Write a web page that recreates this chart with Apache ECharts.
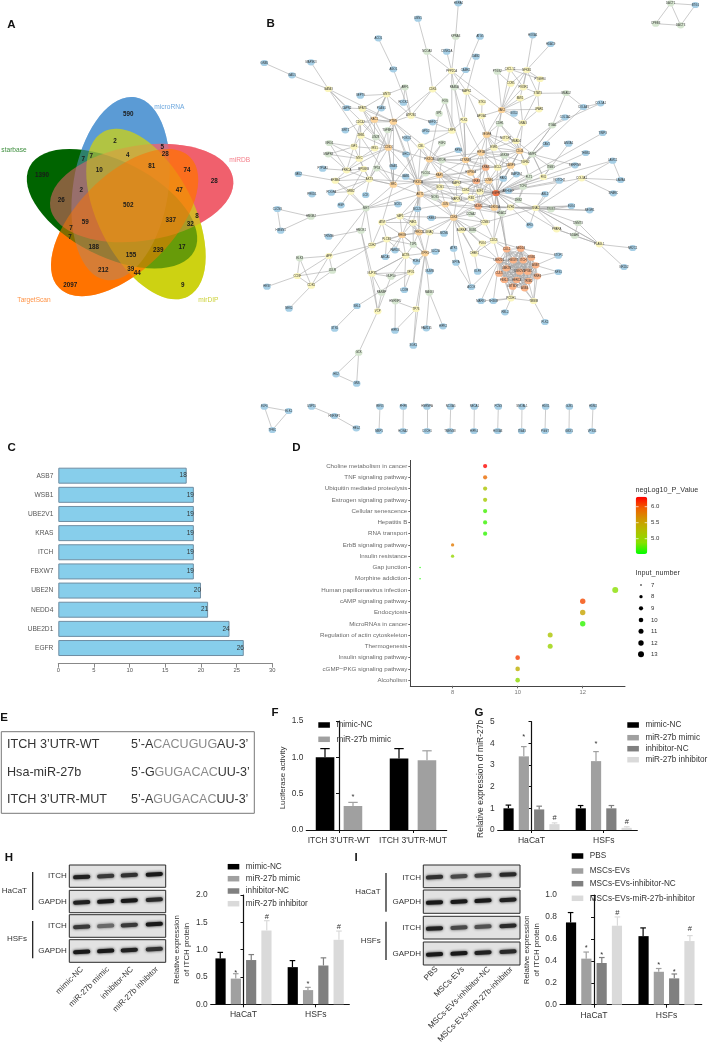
<!DOCTYPE html>
<html><head><meta charset="utf-8">
<style>html,body{margin:0;padding:0;background:#fff}#c{width:709px;height:1047px;filter:blur(0.35px)}</style>
<script src="https://cdn.jsdelivr.net/npm/echarts@6/dist/echarts.min.js"></script>
</head><body><div id="c"></div>
<script>
/* ---------- A: Venn ---------- */
const vennNames=["microRNA","miRDB","mirDIP","starbase","TargetScan"];
const vennCx=[362,425,438,336,374];
const vennCy=[566,579,642,626,668];
const vennRx=[277.5,277.5,277.5,277.5,277.5];
const vennRy=[143,143,143,143,143];
const vennAngle=[81,9,-63,-27,45];
const vennPure=["#5b9bd5","#f0606e","#cdd212","#006400","#ff7300"];
const vennGlaze=[0.5,0.55,0.5,0,0.5];
const vennCounts=[["590",385,344],["2",345,423],["7",250,477],["7",274,470],["4",383,465],["5",487,441],["28",496,463],["1390",126,525],["10",298,510],["81",455,499],["74",561,510],["28",643,543],["2",244,570],["26",184,601],["47",538,570],["502",385,615],["337",512,660],["8",591,649],["32",571,673],["59",256,667],["7",213,685],["7",210,711],["188",281,743],["239",475,751],["17",546,743],["155",393,767],["212",310,812],["39",392,808],["44",412,821],["2097",211,856],["9",548,856]];
/* ---------- B: network ---------- */
const networkNodes=[
["HSPA4",655,10,"b"],["KPNA3",647,110,"g"],["UBN1",534,56,"b"],["NCOA3",561,155,"g"],["CSNK2A",620,155,"b"],["ATG5",720,110,"b"],["DAB2",708,170,"b"],["ACO1",415,115,"b"],["AGO1",460,208,"b"],["PPP2CA",635,213,"y"],["CAMK1",677,210,"b"],["GNB5",73,189,"b"],["GAD1",156,226,"b"],["MAP3K3",213,187,"b"],["GATA3",265,267,"y"],["RAB5A",643,262,"g"],["CDK6",578,268,"y"],["MAPK1",680,275,"y"],
["PTGS2",772,215,"g"],["CXCL12",810,208,"y"],["NFKB1",860,210,"y"],["PTGER4",900,237,"y"],["CCR5",812,251,"y"],["PIK3R1",850,262,"y"],["STAT3",893,280,"y"],["BMI1",840,295,"y"],["LPAR1",897,328,"y"],["JAK2",785,330,"o"],["SOD2",822,341,"b"],["GNAI3",848,369,"y"],["SMAD2",978,279,"g"],["COL4A1",1030,321,"b"],["COL5A1",1082,310,"b"],["COL1A2",975,352,"b"],["ITGA5",937,376,"g"],["HOXA1",878,106,"b"],["HDAC9",932,132,"b"],
["STK4",726,307,"y"],["FOS",615,303,"g"],["SP1",597,341,"g"],["APOA1",725,348,"y"],["PLK1",672,360,"y"],["LRP6",636,392,"y"],["MEF2C",578,367,"b"],["GPD2",557,394,"b"],
["WNT3",440,283,"y"],["ARF1",495,262,"g"],["SEPT9",361,287,"b"],["ROCK1",490,308,"b"],["CAPN2",320,324,"b"],["NFAT5",367,326,"y"],["PLAG1",424,325,"b"],["ATP2B1",513,347,"y"],
["CDC42",361,367,"y"],["RAC1",403,359,"o"],["PTEN",460,365,"o"],["TGFBR1",443,390,"g"],["SIRT1",316,391,"b"],["ZEB1",363,407,"y"],["LIN28",407,412,"g"],["FOXO1",500,415,"b"],
["NRG1",268,429,"g"],["MAPK8",265,463,"g"],["IGF1",342,440,"y"],["IRS1",404,445,"y"],["CCND1",445,443,"o"],["MYC",358,476,"y"],
["PTP4A1",248,506,"b"],["PRKCA",320,511,"y"],["RPS6KB",371,507,"y"],["TP53",410,505,"g"],["GNAI1",460,500,"b"],["VAV2",175,522,"b"],["ERBB4",286,542,"y"],["AKT3",388,538,"y"],["SRC",460,554,"o"],
["PRKD1",216,583,"b"],["PDGFA",274,578,"b"],["GRB2",332,575,"y"],["LCK",377,585,"b"],["HGF",303,616,"b"],["MET",378,625,"g"],["CLCN3",112,627,"b"],["HMGB2",213,650,"g"],["HMGN1",122,692,"b"],["NCK1",474,613,"b"],
["PIK3CA",534,546,"o"],["AKT1",540,583,"o"],["GAB1",497,530,"b"],["SHC1",498,463,"b"],["CBL",543,438,"y"],["PIK3CB",568,478,"o"],["FGF2",606,430,"g"],["RPS6",655,450,"b"],["MTOR",605,481,"g"],["PLCG1",557,520,"g"],["RAF1",598,525,"o"],["SOS1",600,561,"y"],["NOS1",585,592,"g"],["MAPK3",650,549,"y"],["MAP2K1",650,597,"y"],["JUN",616,613,"o"],["BCL2L",532,627,"b"],["CREB1",574,654,"b"],
["CTNNB1",677,480,"o"],["HIF1A",723,458,"o"],["VEGFA",740,404,"o"],["ESR1",762,443,"y"],["NOTCH1",797,415,"y"],["SMAD4",828,423,"y"],["CDH1",779,371,"g"],["CD44",839,453,"o"],["MMP2",877,463,"g"],["TGFB2",855,487,"y"],["GSK3B",793,467,"g"],["CASP3",812,497,"o"],["BCL2",773,503,"y"],["KRAS",737,503,"s"],["HSP90A",692,518,"o"],["NRAS",709,543,"s"],["CCNE1",746,542,"o"],["PAK2",790,536,"b"],["MAP2K4",829,523,"b"],["FLT1",867,531,"g"],["FN1",910,531,"y"],["ITGB1",932,501,"g"],["SERPINE",1005,496,"b"],["THBS1",1037,459,"b"],["ANXA1",986,431,"b"],["CAV1",919,432,"b"],["TIMP3",1088,399,"b"],["COL3A1",1025,535,"y"],["LAMC1",1118,482,"b"],["LAMA4",1142,540,"b"],["SPARC",1120,580,"b"],["NOTCH2",958,542,"b"],["ABL2",915,582,"b"],["TCF4",849,560,"g"],["ARHGEF",805,573,"b"],["EGFR",768,579,"r"],["CDK2",677,572,"y"],["E2F1",720,575,"y"],["RB1",694,594,"y"],["MDM2",715,619,"s"],["CDKN1A",763,623,"o"],["EZH2",812,622,"y"],["HDAC2",785,640,"g"],["ZEB2",835,600,"g"],["SNAI2",887,624,"y"],["TWIST",933,628,"g"],["ELK4",994,618,"b"],["NEGR1",1049,631,"b"],["ERG",869,676,"b"],["DNMT3",1014,669,"g"],["PPARA",950,688,"y"],["DDAH1",1004,707,"g"],["PLAGL1",1078,733,"y"],["NR2C1",1178,744,"b"],["NR1D2",1152,801,"b"],
["CDK4",641,653,"o"],["CCNA2",693,642,"g"],["CCNB1",735,667,"y"],["AURKA",665,690,"y"],["BUB1",698,690,"g"],["MCM6",612,701,"b"],["ATF2",641,746,"b"],["NFYA",648,788,"b"],["CHEK1",703,761,"y"],["PLK4",727,730,"y"],["CDC6",761,722,"y"],
["HMOX1",363,692,"g"],["TRIM36",266,710,"b"],["ATM",426,667,"y"],["YAP1",480,649,"y"],["PAK1",519,668,"y"],["RHOB",486,705,"o"],["PRKCB",537,697,"o"],["GNAQ",568,697,"y"],["PLCB1",440,718,"y"],["CDH2",396,736,"y"],["TJP1",520,734,"g"],["PARD3",465,751,"b"],["ABCA1",436,771,"b"],["ACTB",497,767,"y"],["ITPR1",555,760,"o"],["SLC2A",586,755,"b"],["PDE4",529,785,"b"],["NUMB",569,814,"b"],
["APP",267,768,"y"],["ELK3",179,775,"g"],["CCNF",172,828,"y"],["LDLR",277,812,"g"],["CDK5",214,857,"y"],["HES7",81,860,"b"],["NEK2",147,926,"b"],
["NUP35",396,821,"y"],["NUP50",453,830,"g"],["XPO1",512,817,"y"],["LCOR",493,870,"b"],["RANBP",425,878,"g"],["MAGI3",568,878,"g"],["HNRNPU",466,904,"g"],["TP73",528,927,"y"],["VCP",413,934,"y"],["SEL1",351,918,"b"],["STX6",284,986,"b"],["HIPK3",465,992,"b"],["FAM135",559,985,"b"],["HIPK2",609,979,"b"],["SGK1",520,1037,"b"],["GCK",356,1058,"g"],["HK2",288,1123,"b"],["GNS",350,1151,"b"],["ACOX",694,861,"b"],["KLF8",713,815,"b"],
["CUL2",800,748,"s"],["NEDD4",842,746,"s"],["UBE2D1",777,781,"s"],["FBXW7",820,781,"s"],["ITCH",850,781,"s"],["WSB1",874,773,"s"],["ASB7",887,796,"s"],["UBE2N",799,805,"s"],["UBE2V1",839,815,"s"],["SPSB1",863,815,"s"],["RNF4",892,829,"s"],["CUL5",777,821,"s"],["FBXL3",793,840,"s"],["HERC4",830,840,"s"],["TRIM2",865,843,"s"],["KBTBD6",818,860,"s"],["ASB4",854,865,"s"],
["STOP1",955,767,"b"],["NFS1",955,816,"b"],["PCDH1",813,895,"y"],["TMBIM",881,903,"y"],["MARK1",723,903,"b"],["SH3KB",760,903,"b"],["RBL2",795,937,"b"],["PLK2",915,966,"b"],
["DACT1",1292,10,"g"],["BTG1",1366,15,"b"],["CPEB3",1247,71,"g"],["DACT3",1322,76,"g"],
["ELF4",73,1220,"b"],["ELK1",146,1233,"b"],["TFRC",97,1290,"b"],["USP15",215,1220,"b"],["HNRNP1",283,1248,"b"],["HELZ",349,1285,"b"],
["REV3",420,1220,"b"],["PHF8",490,1220,"b"],["HNRNPA",561,1220,"b"],["NCOA5",632,1220,"b"],["NECA1",703,1220,"b"],["PCNX",775,1220,"b"],["SMOAL1",846,1220,"b"],["HDX1",917,1220,"b"],["GJB1",988,1220,"b"],["HDM2",1059,1220,"b"],
["MBP1",417,1293,"b"],["HOXA2",489,1293,"b"],["COCH1",561,1293,"b"],["TMEM38",630,1293,"b"],["HIPK4",702,1293,"b"],["HOXA3",773,1293,"b"],["ITGA3",845,1293,"b"],["PGGT",915,1293,"b"],["GBX1",987,1293,"b"],["VPS35",1056,1293,"b"]
];
const networkUbiquitinClique=["CUL2","NEDD4","UBE2D1","FBXW7","ITCH","WSB1","ASB7","UBE2N","UBE2V1","SPSB1","RNF4","CUL5","FBXL3","HERC4","TRIM2","KBTBD6","ASB4"];
const networkEdges=[
"KPNA3: HSPA4 PPP2CA","NCOA3: UBN1 CDK6 PPP2CA","PPP2CA: CSNK2A CDK6 MAPK1 RAB5A JAK2 LRP6","CAMK1: ATG5 RAB5A","MAPK1: DAB2 PLK1 RAB5A STK4 VEGFA","AGO1: ACO1 ATP2B1","GAD1: GNB5 GATA3","GATA3: MAP3K3 CAPN2 PTEN SRC CCND1","CDK6: ATP2B1 PTEN FOS","ARF1: WNT3 ATP2B1 ROCK1","WNT3: NFAT5 PTEN RAC1 PLAG1 ATP2B1 SEPT9",
"NFKB1: HOXA1 HDAC9 CXCL12 CCR5 PIK3R1 PTGER4 JAK2 BMI1 STAT3","JAK2: PTGS2 CXCL12 CCR5 PIK3R1 STAT3 BMI1 LPAR1 GNAI3 SOD2 VEGFA CDH1 ESR1","STAT3: SMAD2 PTGER4 LPAR1 GNAI3 PIK3R1","PTGS2: CCR5 CXCL12","CXCL12: PTGER4 PIK3R1","GNAI3: LPAR1 SMAD4 BMI1","SMAD2: COL4A1 ITGA5","ITGA5: COL5A1 COL1A2 CD44 TGFB2","COL4A1: COL5A1",
"FOS: SP1 LRP6 CTNNB1","SP1: PIK3CB","APOA1: VEGFA STK4 JAK2","PLK1: LRP6 CTNNB1 HIF1A RAB5A","LRP6: GPD2 MEF2C CBL","MEF2C: ATP2B1","RAB5A: CTNNB1",
"PTEN: ATP2B1 RAC1 TGFBR1 CDC42 SRC CCND1 PIK3CA AKT1 MTOR PIK3CB","RAC1: CDC42 ZEB1 NFAT5 IRS1 CCND1 PTEN WNT3","NFAT5: CAPN2 PTEN CCND1 LIN28","CCND1: IRS1 TGFBR1 LIN28 ZEB1 MYC PRKCA SRC AKT3 PIK3CA SHC1 PIK3CB","CDC42: ZEB1 SIRT1 IGF1 LIN28 MYC","IGF1: NRG1 MAPK8 MYC PRKCA IRS1 ZEB1","MYC: NRG1 MAPK8 PRKCA RPS6KB AKT3 IRS1","PRKCA: MAPK8 NRG1 PTP4A1 RPS6KB ERBB4 AKT3","ERBB4: VAV2 AKT3 GRB2 RPS6KB MET","AKT3: TP53 RPS6KB GRB2 PDGFA LCK SRC PIK3CA TGFBR1","GRB2: PDGFA HGF MET RPS6KB","SRC: AKT3 TP53 GNAI1 PIK3CA CBL MET CCND1 ATM AKT1","MET: HMGB2 PIK3CA NCK1 AKT1","HMGB2: CLCN3 HMGN1","CLCN3: HMGN1",
"PIK3CA: GAB1 SHC1 CBL PIK3CB PLCG1 RAF1 AKT1 SOS1 EGFR NRAS KRAS MAPK3 JUN BCL2L FOXO1 FGF2 MAP2K1","AKT1: BCL2L SOS1 NOS1 JUN PRKCB RHOB CDK4 MAP2K1 YAP1 PAK1 EGFR","PIK3CB: CBL FGF2 RAF1 MTOR CTNNB1 PLCG1 RPS6 HIF1A KRAS MAPK3 NRAS","CTNNB1: RPS6 MTOR RAF1 HIF1A VEGFA MAPK3 HSP90A KRAS NRAS ESR1 PLK1 GSK3B BCL2","RAF1: MTOR SOS1 HSP90A NRAS MAPK3 MAP2K1 PLCG1 EGFR CDK2","HIF1A: VEGFA ESR1 NOTCH1 KRAS BCL2 CASP3 CD44 GSK3B E2F1 HSP90A","VEGFA: NOTCH1 ESR1 CDH1 GSK3B CD44 BCL2 KRAS","CD44: SMAD4 NOTCH1 ESR1 MMP2 TGFB2 GSK3B CASP3 CDH1 GNAI3 EGFR BCL2","SMAD4: NOTCH1 CDH1 ESR1 MMP2 TGFB2","MMP2: TGFB2 CAV1 ITGB1 SERPINE FN1","TGFB2: GSK3B CASP3 FLT1 ITGA5 COL4A1","CASP3: BCL2 KRAS EGFR CCNE1 GSK3B MAP2K4 E2F1","BCL2: KRAS GSK3B EGFR CCNE1","KRAS: HSP90A NRAS CCNE1 E2F1 EGFR CDK2","NRAS: HSP90A CCNE1 E2F1 EGFR MAP2K1 CDK2 RB1 MDM2 MAPK3","CCNE1: EGFR E2F1 CDK2 MDM2 PAK2",
"EGFR: CCNE1 PAK2 ARHGEF TCF4 COL3A1 THBS1 TIMP3 SERPINE NOTCH2 FN1 ZEB2 EZH2 CDKN1A HDAC2 MDM2 E2F1 RB1 CDK2 CD44 GSK3B FLT1 SNAI2 CDC6 CUL2 CDK4 JUN LAMC1","COL3A1: LAMC1 LAMA4 SPARC SNAI2","LAMC1: LAMA4","MAP2K4: FLT1 EGFR","FN1: ITGB1 ANXA1 MMP2","CAV1: TGFB2","ABL2: EGFR","MDM2: RB1 E2F1 CDKN1A EZH2 HDAC2 JUN CDK4 CCNB1 TWIST SNAI2 MAP2K1","CDKN1A: E2F1 RB1 EZH2 HDAC2 CCNE1 TP53 SNAI2","EZH2: HDAC2 ZEB2 SNAI2 TWIST ELK4 NEGR1","SNAI2: TWIST PPARA PLAGL1 ELK4 NOTCH2 ABL2 ERG CCNB1","TWIST: NEGR1 ELK4","ZEB2: TCF4 FLT1","RB1: E2F1 CDK2 MAP2K1 JUN CDK4","CDK2: E2F1 MAPK3 MAP2K1 SOS1","JUN: NOS1 MAP2K1 CDK4 SOS1 BCL2L HDAC2","NOS1: SOS1 CDK4","MAP2K1: CDK4 MAPK3","CDK4: CCNA2 CCNB1 AURKA CREB1 YAP1 ATF2 CHEK1 PLK4 CDC6 MCM6",
"DNMT3: DDAH1 PLAGL1 SNAI2","PPARA: DDAH1 PLAGL1 EGFR","PLAGL1: NR2C1 NR1D2 DDAH1 SNAI2","ERG: EGFR",
"CDC6: PLK4 CCNB1 CUL2 UBE2D1 HDAC2 NEDD4 CHEK1","CHEK1: KLF8 PLK4 UBE2D1 AURKA","ATF2: NFYA","NFYA: ACOX","ACOX: UBE2D1 CDK4","CCNB1: AURKA BUB1 CCNA2",
"HMOX1: TRIM36 MET NUP35","ATM: YAP1 PLCB1 CDH2 RHOB PAK1","YAP1: PAK1 RHOB PRKCB ATM BCL2L","PAK1: RHOB PRKCB GNAQ TJP1 ITPR1","RHOB: PRKCB PLCB1 CDH2 TJP1 ACTB ITPR1 PARD3 ABCA1 GNAQ","PRKCB: GNAQ TJP1 ITPR1 MCM6 BCL2L CDK4","GNAQ: ITPR1 CDK4","PLCB1: CDH2 ACTB ABCA1 TJP1","CDH2: APP MET","TJP1: ACTB ITPR1","ACTB: ITPR1 NUP50 NUP35 PDE4 LCOR","ITPR1: SLC2A NUMB XPO1 MAGI3 TP73 PDE4 SGK1",
"APP: ELK3 CCNF CDK5 MET","ELK3: CCNF CDK5","CCNF: LDLR CDK5 HES7","LDLR: CDK5 APP CDH2","CDK5: NEK2",
"NUP35: NUP50 XPO1 RANBP VCP ACTB","XPO1: NUP50 LCOR SEL1","RANBP: VCP","VCP: GCK HMOX1 NUP50","GCK: HK2 GNS","HK2: GNS","SEL1: STX6","MAGI3: FAM135 HIPK2","TP73: HIPK3 SGK1","HNRNPU: HIPK3 TP73",
"UBE2D1: CDK4 PCDH1 MARK1 SH3KB","TMBIM: ASB4 TRIM2 RNF4 PLK2 PCDH1 ASB7 HERC4","PCDH1: KBTBD6 SH3KB MARK1 RBL2 FBXL3 HERC4","NEDD4: STOP1","ASB7: STOP1 NFS1","RNF4: NFS1","CUL2: HDAC2 EGFR",
"DACT1: BTG1 CPEB3 DACT3","BTG1: DACT3","CPEB3: DACT3",
"ELF4: ELK1 TFRC","ELK1: TFRC","USP15: HNRNP1","HNRNP1: HELZ",
"REV3: MBP1","PHF8: HOXA2","HNRNPA: COCH1","NCOA5: TMEM38","NECA1: HIPK4","PCNX: HOXA3","SMOAL1: ITGA3","HDX1: PGGT","GJB1: GBX1","HDM2: VPS35"
];
const networkColors={b:"#a6cfe6",g:"#d6e6d0",y:"#fbf6bd",o:"#fdd49a",s:"#fbb387",r:"#ee7448"};
/* ---------- C ---------- */
const cGenes=["ASB7","WSB1","UBE2V1","KRAS","ITCH","FBXW7","UBE2N","NEDD4","UBE2D1","EGFR"];
const cDegree=[18,19,19,19,19,19,20,21,24,26];
/* ---------- D ---------- */
const dPathways=["Choline metabolism in cancer","TNF signaling pathway","Ubiquitin mediated proteolysis","Estrogen signaling pathway","Cellular senescence","Hepatitis B","RNA transport","ErbB signaling pathway","Insulin resistance","Gap junction","Morphine addiction","Human papillomavirus infection","cAMP signaling pathway","Endocytosis","MicroRNAs in cancer","Regulation of actin cytoskeleton","Thermogenesis","Insulin signaling pathway","cGMP\u2212PKG signaling pathway","Alcoholism"];
const dInput=[9,9,9,9,9,9,9,8,8,7,7,13,12,12,12,11,11,10,10,10];
const dNegLog=[6.3,5.9,5.2,5.15,4.7,4.68,4.65,5.8,5.0,4.6,4.6,4.9,6.05,5.5,4.65,5.2,5.05,6.1,5.4,4.95];
const dInputLegend=[7,8,9,10,11,12,13];
const dSymbolPx={7:1.6,8:3.3,9:4.2,10:4.6,11:5,12:5.4,13:6};
/* ---------- F ---------- */
const fGroups=["ITCH 3'UTR-WT","ITCH 3'UTR-MUT"];
const fSeries=["mimic-NC","miR-27b mimic"];
const fMeans=[[1.0,0.985],[0.33,0.96]];
const fTops=[[1.12,1.12],[0.38,1.09]];
const fMarks=[[null,null],[["*",0.45],null]];
/* ---------- G ---------- */
const gGroups=["HaCaT","HSFs"];
const gSeries=["mimic-NC","miR-27b mimic","inhibitor-NC","miR-27b inhibitor"];
const gMeans=[[1.0,1.0],[3.4,3.18],[0.95,1.0],[0.27,0.1]];
const gTops=[[1.15,1.13],[3.85,3.62],[1.1,1.13],[0.33,0.15]];
const gMarks=[[null,null],[["*",4.3],["*",3.98]],[null,null],[["#",0.57],["#",0.35]]];
/* ---------- H ---------- */
const hMeans=[[0.84,0.68],[0.47,0.26],[0.81,0.71],[1.35,1.18]];
const hTops=[[0.95,0.80],[0.56,0.31],[0.91,0.85],[1.53,1.34]];
const hMarks=[[null,null],[["*",0.58],["*",0.37]],[null,null],[["#",1.6],["#",1.42]]];
/* ---------- I ---------- */
const iSeries=["PBS","MSCs-EVs","MSCs-EVs-inhibitor-NC","MSCs-EVs-miR-27b-inhibitor"];
const iMeans=[[0.75,0.625],[0.42,0.30],[0.38,0.24],[0.72,0.58]];
const iTops=[[0.84,0.70],[0.48,0.33],[0.43,0.28],[0.80,0.63]];
const iMarks=[[null,null],[["*",0.52],["*",0.36]],[["*",0.455],["*",0.30]],[["#",0.84],["#",0.69]]];
/* ---------- blots ---------- */
const hBandStrength=[[.95,.8,.85,1],[.95,1,1,.9],[.8,.5,.8,1],[1,1,.95,.85]];
const iBandStrength=[[.85,.7,.75,.9],[1,1,1,.95],[.95,.7,.65,.9],[1,1,.95,.9]];
const FONT="Liberation Sans";
const barColors={"mimic-NC":"#000","miR-27b mimic":"#a0a0a0","inhibitor-NC":"#808080","miR-27b inhibitor":"#dadada","PBS":"#000","MSCs-EVs":"#a0a0a0","MSCs-EVs-inhibitor-NC":"#808080","MSCs-EVs-miR-27b-inhibitor":"#dadada"};

const grid=[],xAxis=[],yAxis=[],series=[],legend=[];
function hiddenGrid(l,t,w,h,xMax,yMax){
  grid.push({left:l,top:t,width:w,height:h});
  xAxis.push({type:"value",gridIndex:grid.length-1,min:0,max:xMax,show:false});
  yAxis.push({type:"value",gridIndex:grid.length-1,min:0,max:yMax,inverse:true,show:false});
  return grid.length-1;
}
function textSeries(g,items){
  series.push({type:"custom",xAxisIndex:g,yAxisIndex:g,silent:true,clip:false,z:12,
    data:items.map(t=>[t.x,t.y]),
    renderItem(p,api){const t=items[p.dataIndex],c=api.coord([api.value(0),api.value(1)]);
      return {type:"text",x:c[0],y:c[1],rotation:(t.rot||0)*Math.PI/180,
        style:{text:t.text,rich:t.rich,fontFamily:FONT,fontSize:t.size||7.5,fontWeight:t.bold?"bold":"normal",fill:t.color||"#333",align:t.align||"left",verticalAlign:"middle"}};}});
}
/* Page layer, in pixels */
const pg=hiddenGrid(0,0,709,1047,709,1047);
/* Venn layer */
const vg=hiddenGrid(0,0,240,320,720,960);
function vennLayer(order,op){
  series.push({type:"custom",xAxisIndex:vg,yAxisIndex:vg,silent:true,clip:false,z:2,
    data:order.map(i=>[vennCx[i],vennCy[i],vennRx[i],vennRy[i],vennAngle[i],i]),
    renderItem(p,api){const c=api.coord([api.value(0),api.value(1)]),s=api.size([api.value(2),api.value(3)]),i=api.value(5);
      return {type:"ellipse",x:c[0],y:c[1],rotation:api.value(4)*Math.PI/180,shape:{cx:0,cy:0,rx:s[0],ry:s[1]},style:{fill:vennPure[i],opacity:op?op[i]:1}};}});
}
vennLayer([0,1,2,4,3],null);
vennLayer([0,1,2,4],vennGlaze);
textSeries(vg,vennCounts.map(v=>({text:v[0],x:v[1],y:v[2],size:6.3,bold:true,align:"center",color:"#1a1a1a"})));
textSeries(vg,[{text:"starbase",x:4,y:450,color:"#3f8f3f",size:6.6},{text:"microRNA",x:463,y:322,color:"#6ea8de",size:6.6},{text:"miRDB",x:688,y:480,color:"#f57f8a",size:6.6},{text:"TargetScan",x:52,y:902,color:"#ff9448",size:6.6},{text:"mirDIP",x:595,y:902,color:"#cdd23a",size:6.6}]);
/* Network */
const ng=hiddenGrid(240,0,469,440,1407,1320);
const nameSet=new Set(networkNodes.map(n=>n[0]));
const links=[];
networkEdges.forEach(line=>{const [h,r]=line.split(": ");r.split(" ").forEach(t=>{if(nameSet.has(h)&&nameSet.has(t)&&h!==t)links.push({source:h,target:t});});});
networkUbiquitinClique.forEach((a,i)=>networkUbiquitinClique.slice(i+1).forEach(b=>links.push({source:a,target:b})));
series.push({type:"graph",coordinateSystem:"cartesian2d",xAxisIndex:ng,yAxisIndex:ng,layout:"none",silent:true,z:3,symbol:"circle",symbolSize:[7.6,6.2],
  label:{show:true,position:"inside",fontSize:2.8,color:"#333",fontFamily:FONT},
  lineStyle:{color:"#a8a8a8",width:0.6,opacity:1},
  data:networkNodes.map(n=>({name:n[0],value:[n[1],n[2]],itemStyle:{color:networkColors[n[3]]}})),links});
/* C */
grid.push({left:58.3,top:466.1,width:214,height:191.5});
let ci=grid.length-1;
xAxis.push({type:"value",gridIndex:ci,min:0,max:30,interval:5,offset:5.5,axisLine:{show:true,lineStyle:{color:"#888",width:1}},axisTick:{show:true,length:4.5,lineStyle:{color:"#888"}},axisLabel:{fontSize:5.8,color:"#555",fontFamily:FONT,margin:4},splitLine:{show:false}});
yAxis.push({type:"category",gridIndex:ci,inverse:true,data:cGenes,axisLine:{show:false},axisTick:{show:false},axisLabel:{fontSize:6.6,color:"#555",fontFamily:FONT,margin:5}});
series.push({type:"bar",xAxisIndex:ci,yAxisIndex:ci,data:cDegree,barWidth:16,silent:true,itemStyle:{color:"#87ceeb",borderColor:"#6f8ea3",borderWidth:1},label:{show:true,position:"insideRight",distance:0,fontSize:6.4,color:"#333",fontFamily:FONT}});
/* D */
grid.push({left:410.3,top:460.4,width:214.7,height:225.4});
let di=grid.length-1;
xAxis.push({type:"value",gridIndex:di,min:6.7,max:13.3,axisLine:{show:true,onZero:false,lineStyle:{color:"#444",width:1}},axisTick:{show:true,length:2.5,lineStyle:{color:"#666"},customValues:[8,10,12]},axisLabel:{fontSize:5.8,color:"#777",fontFamily:FONT,margin:4,customValues:[8,10,12]},splitLine:{show:false}});
yAxis.push({type:"category",gridIndex:di,inverse:true,data:dPathways,axisLine:{show:true,lineStyle:{color:"#444",width:1}},axisTick:{show:true,length:2,alignWithLabel:true,lineStyle:{color:"#666"}},axisLabel:{fontSize:6.2,color:"#6a6a6a",fontFamily:FONT,margin:3,interval:0}});
series.push({type:"scatter",xAxisIndex:di,yAxisIndex:di,silent:true,data:dPathways.map((p,i)=>[dInput[i],p,dNegLog[i]]),symbolSize:v=>dSymbolPx[v[0]],encode:{x:0,y:1}});
const dSeriesIndex=series.length-1;
const vm={type:"continuous",seriesIndex:dSeriesIndex,dimension:2,min:4.53,max:6.32,left:635.7,top:496.7,itemWidth:11.6,itemHeight:57.3,calculable:false,hoverLink:false,realtime:false,padding:0,text:null,show:true,inRange:{color:["#00ff00","#88e000","#b0c000","#d09800","#f06000","#ff0000"]},textStyle:{fontSize:1,color:"transparent"}};
/* Bar panels */
function barPanel(c){
  const band=c.band,left=c.axisLeft,right=c.axisRight;
  grid.push({left,top:c.yTop,width:right-left,height:c.y0-c.yTop});
  const idx=grid.length-1,n=c.series.length;
  const vals=c.groups.map((_,i)=>i);
  xAxis.push({type:"value",gridIndex:idx,min:(left-c.c0)/band,max:(right-c.c0)/band,splitLine:{show:false},
    axisLine:{show:true,onZero:false,lineStyle:{color:"#111",width:1.2}},
    axisTick:{show:true,length:3,lineStyle:{color:"#111",width:1},customValues:vals},
    axisLabel:{fontSize:8.6,color:"#333",fontFamily:FONT,margin:6,customValues:vals,formatter:v=>c.groups[Math.round(v)]}});
  yAxis.push({type:"value",gridIndex:idx,min:0,max:c.max,interval:c.interval,splitLine:{show:false},name:c.yName,nameLocation:"middle",nameRotate:90,nameGap:c.nameGap,
    nameTextStyle:{fontSize:c.nameSize||7.9,color:"#333",fontFamily:FONT,lineHeight:10,padding:[0,c.nameShift||0,0,0]},
    axisLine:{show:true,lineStyle:{color:"#111",width:1.2}},axisTick:{show:true,length:3,lineStyle:{color:"#111",width:1}},
    axisLabel:{fontSize:8.4,color:"#333",fontFamily:FONT,margin:3,formatter:v=>c.digits?v.toFixed(c.digits):String(v)}});
  c.series.forEach((s,i)=>{
    series.push({type:"bar",name:s,xAxisIndex:idx,yAxisIndex:idx,barWidth:c.barWidth,barGap:c.barGap,silent:true,itemStyle:{color:barColors[s]},data:c.means[i].map((v,g)=>[g,v])});
  });
  const rows=[];
  c.series.forEach((s,i)=>c.groups.forEach((_,g)=>rows.push([g,c.tops[i][g],c.means[i][g],i])));
  series.push({type:"custom",xAxisIndex:idx,yAxisIndex:idx,silent:true,clip:false,z:4,data:rows,
    renderItem(p,api){
      const g=api.value(0),i=api.value(3),s=c.series[i],col=barColors[s];
      const x=api.coord([g,0])[0]+(i-(n-1)/2)*c.pitch;
      const yT=api.coord([g,api.value(1)])[1],yM=api.coord([g,api.value(2)])[1];
      const kids=[{type:"line",shape:{x1:x,y1:yM,x2:x,y2:yT},style:{stroke:col,lineWidth:1.2}},
                  {type:"line",shape:{x1:x-c.cap,y1:yT,x2:x+c.cap,y2:yT},style:{stroke:col,lineWidth:1.2}}];
      const m=c.marks[i][g];
      if(m){kids.push({type:"text",x:x,y:api.coord([g,m[1]])[1],style:{text:m[0],fontSize:7.5,fontFamily:FONT,fill:"#333",align:"center",verticalAlign:"middle"}});}
      return {type:"group",children:kids};
    }});
  (c.legendAt||[]).forEach((pos,i)=>{
    legend.push({data:[c.series[i]],left:pos[0],top:pos[1]-4,itemWidth:11.6,itemHeight:5.5,icon:"rect",padding:0,itemGap:0,selectedMode:false,
      textStyle:{fontSize:8.2,color:"#333",fontFamily:FONT,padding:[0,0,0,1.5]}});
  });
}
barPanel({series:fSeries,groups:fGroups,means:fMeans,tops:fTops,marks:fMarks,axisLeft:306.3,axisRight:446.7,c0:339,band:74,yTop:721,y0:830,max:1.5,interval:0.5,digits:1,barWidth:18.6,barGap:"50%",pitch:28,cap:4.7,yName:"Luciferase activity",nameGap:18,nameShift:5,legendAt:[[318.3,725],[318.3,739.3]]});
barPanel({series:gSeries,groups:gGroups,means:gMeans,tops:gTops,marks:gMarks,axisLeft:497.7,axisRight:637.3,c0:531.5,band:72.2,yTop:721.7,y0:830,max:5,interval:1,digits:0,barWidth:10.2,barGap:"50%",pitch:15.4,cap:2.8,yName:"Relative expression of miR-27b",nameGap:12,nameSize:8.5,nameShift:6,legendAt:[[627.3,725],[627.3,737.7],[627.3,748.7],[627.3,759.7]]});
barPanel({series:gSeries,groups:gGroups,means:hMeans,tops:hTops,marks:hMarks,axisLeft:210.7,axisRight:349.3,c0:243.5,band:72.2,yTop:895,y0:1004.3,max:2,interval:0.5,digits:1,barWidth:10.2,barGap:"50%",pitch:15.5,cap:2.8,yName:"Relative expression\nof ITCH protein",nameGap:18.5,legendAt:[[227.7,866.7],[227.7,878.7],[227.7,891],[227.7,903.7]]});
barPanel({series:iSeries,groups:gGroups,means:iMeans,tops:iTops,marks:iMarks,axisLeft:560,axisRight:701.7,c0:594,band:72.5,yTop:895,y0:1004.7,max:1,interval:0.2,digits:1,barWidth:10.2,barGap:"50%",pitch:15.6,cap:2.8,yName:"Relative expression\nof ITCH protein",nameGap:18,legendAt:[[571.7,856],[571.7,871],[571.7,883.7],[571.7,898.3]]});
/* Blots */
function blot(frames,laneX,strength){
  const items=[];
  frames.forEach((f,r)=>laneX.forEach((lx,l)=>items.push([lx,f[1]+f[3]/2-0.5+(1.5-l)*0.9,strength[r][l],r])));
  series.push({type:"custom",xAxisIndex:pg,yAxisIndex:pg,silent:true,clip:false,z:5,data:frames.map(f=>[f[0],f[1],f[2],f[3]]),
    renderItem(p,api){const c=api.coord([api.value(0),api.value(1)]),s=api.size([api.value(2),api.value(3)]);
      return {type:"rect",shape:{x:c[0],y:c[1],width:s[0],height:s[1]},style:{fill:"#e2e2e2",stroke:"#2a2a2a",lineWidth:1}};}});
  series.push({type:"custom",xAxisIndex:pg,yAxisIndex:pg,silent:true,clip:false,z:6,data:items,
    renderItem(p,api){const c=api.coord([api.value(0),api.value(1)]),k=api.value(2),g=Math.round(160*(1-k)+25);
      const col="rgb("+g+","+g+","+g+")";
      return {type:"rect",x:c[0],y:c[1],rotation:3*Math.PI/180,shape:{x:-8.6,y:-2,width:17.2,height:4,r:2},style:{fill:col,shadowBlur:3,shadowColor:col}};}});
}
blot([[69.3,865,96.4,22.3],[69.3,890.3,96.4,22.4],[69.3,914.7,96.4,22.6],[69.3,939.7,96.4,22.6]],[81.7,105.7,129.3,154.3],hBandStrength);
blot([[423.3,865,96.7,22.7],[423.3,890,96.7,23.3],[423.3,916.3,96.7,22.7],[423.3,942,96.7,23]],[434.5,459,483,508],iBandStrength);
/* Rules, frames */
const rules=[[32.7,872,32.7,910],[32.7,921,32.7,958.3],[386,873,386,911.7],[386,921.7,386,960],
 [636,506.7,638.6,506.7],[644.7,506.7,647.3,506.7],[636,522.7,638.6,522.7],[644.7,522.7,647.3,522.7],[636,538.7,638.6,538.7],[644.7,538.7,647.3,538.7]];
series.push({type:"custom",xAxisIndex:pg,yAxisIndex:pg,silent:true,clip:false,z:13,data:rules,
  renderItem(p,api){const a=api.coord([api.value(0),api.value(1)]),b=api.coord([api.value(2),api.value(3)]),white=p.dataIndex>=4;
    return {type:"line",shape:{x1:a[0],y1:a[1],x2:b[0],y2:b[1]},style:{stroke:white?"#fff":"#111",lineWidth:white?0.7:1.2}};}});
series.push({type:"custom",xAxisIndex:pg,yAxisIndex:pg,silent:true,clip:false,z:5,data:[[1.3,731.7,253,81.6]],
  renderItem(p,api){const c=api.coord([api.value(0),api.value(1)]),s=api.size([api.value(2),api.value(3)]);
    return {type:"rect",shape:{x:c[0],y:c[1],width:s[0],height:s[1]},style:{fill:"none",stroke:"#777",lineWidth:1}};}});
/* Input_number legend dots */
series.push({type:"scatter",xAxisIndex:pg,yAxisIndex:pg,silent:true,z:6,itemStyle:{color:"#000",opacity:1},data:dInputLegend.map((v,i)=>[641,[585,596.7,608.3,620,631.3,643,654.3][i],v]),symbolSize:v=>dSymbolPx[v[2]]});
/* Page text */
const seqRich={d:{fontSize:12.5,fontFamily:FONT,fill:"#333",color:"#333"},g:{fontSize:12.5,fontFamily:FONT,fill:"#8a8a8a",color:"#8a8a8a"}};
const T=[
 ...[["A",11.5,24.5],["B",270.7,24],["C",11.7,448],["D",296.3,448],["E",4,718],["F",275,713],["G",479,713],["H",9,858],["I",356,858]].map(a=>({text:a[0],x:a[1],y:a[2],size:11.5,bold:true,align:"center",color:"#111"})),
 {text:"ITCH 3\u2019UTR-WT",x:7,y:745,size:12.6},{text:"Hsa-miR-27b",x:7,y:773,size:12.6},{text:"ITCH 3\u2019UTR-MUT",x:7,y:799.7,size:12.6},
 {text:"{d|5\u2019-A}{g|CACUGUG}{d|AU-3\u2019}",rich:seqRich,x:131,y:745},
 {text:"{d|5\u2019-G}{g|GUGACAC}{d|UU-3\u2019}",rich:seqRich,x:131,y:773},
 {text:"{d|5\u2019-A}{g|GUGACAC}{d|UU-3\u2019}",rich:seqRich,x:131,y:799.7},
 {text:"negLog10_P_Value",x:635.6,y:490,size:7.2},{text:"Input_number",x:635.6,y:572.7,size:7.2},
 {text:"6.0",x:651,y:506.7,size:6},{text:"5.5",x:651,y:522.7,size:6},{text:"5.0",x:651,y:538.7,size:6},
 ...dInputLegend.map((v,i)=>({text:String(v),x:651,y:[585,596.7,608.3,620,631.3,643,654.3][i],size:6})),
 ...["ITCH","GAPDH","ITCH","GAPDH"].map((t,i)=>({text:t,x:66.7,y:[876,901.5,926,951][i],size:8,align:"right"})),
 {text:"HaCaT",x:27,y:891,size:8,align:"right"},{text:"HSFs",x:27,y:939,size:8,align:"right"},
 ...["ITCH","GAPDH","ITCH","GAPDH"].map((t,i)=>({text:t,x:421,y:[878,902,928,953.5][i],size:8,align:"right"})),
 {text:"HaCaT",x:380.7,y:891.7,size:8,align:"right"},{text:"HSFs",x:380.7,y:941,size:8,align:"right"},
 ...gSeries.map((t,i)=>({text:t,x:[82,108,132,157][i],y:968,size:8,align:"right",rot:45})),
 ...iSeries.map((t,i)=>({text:t,x:[436.7,463,489,511.7][i],y:968,size:8,align:"right",rot:45}))
];
textSeries(pg,T);

const chart=echarts.init(document.getElementById("c"),null,{renderer:"canvas"});
chart.setOption({animation:false,backgroundColor:"#fff",textStyle:{fontFamily:FONT},grid,xAxis,yAxis,series,legend,visualMap:[vm],tooltip:{show:false}});
</script></body></html>
